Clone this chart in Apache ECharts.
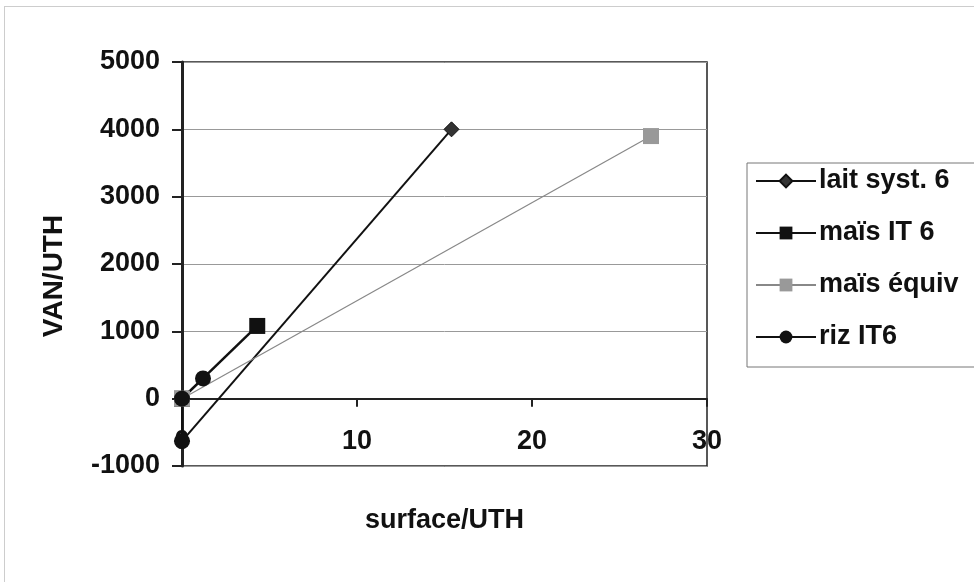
<!DOCTYPE html>
<html>
<head>
<meta charset="utf-8">
<script src="https://cdn.jsdelivr.net/npm/echarts@6/dist/echarts.min.js"></script>
<style>
  html, body { margin: 0; padding: 0; background: #fff; }
  #chart { width: 974px; height: 582px; }
</style>
</head>
<body>
<div id="chart"></div>
<script>
// Series names as shown in the legend
const seriesNames = ['lait syst. 6', 'maïs IT 6', 'maïs équiv', 'riz IT6'];

// surface/UTH (x) and VAN/UTH (y) for each series
const laitX = [0, 15.4];
const laitY = [-630, 4000];
const maisIT6X = [0, 4.3];
const maisIT6Y = [0, 1080];
const maisEquivX = [0, 26.8];
const maisEquivY = [0, 3900];
const rizX = [0, 0, 1.2];
const rizY = [-630, 0, 300];

// Axis ranges
const xTicks = [0, 10, 20, 30];
const yTicks = [-1000, 0, 1000, 2000, 3000, 4000, 5000];

function pairs(xs, ys) {
  return xs.map((x, i) => [x, ys[i]]);
}

const FONT = 'Liberation Sans';
const textStyle = { fontFamily: FONT, fontWeight: 'bold', fontSize: 27, color: '#111' };

const chart = echarts.init(document.getElementById('chart'), null, { renderer: 'canvas' });

chart.setOption({
  animation: false,
  backgroundColor: '#fff',
  graphic: [{
    type: 'rect',
    shape: { x: 4.5, y: 6.5, width: 1000, height: 600 },
    style: { fill: 'none', stroke: '#9a9a9a', lineWidth: 1, lineDash: [1, 1] },
    silent: true
  }],
  grid: {
    left: 182, top: 62, right: 267, bottom: 116,
    containLabel: false,
    outerBoundsMode: 'none',
    show: true, borderColor: '#222', borderWidth: 1.5, backgroundColor: 'transparent'
  },
  legend: {
    orient: 'vertical',
    left: 747, top: 163,
    padding: [2, 40, 14, 8],
    itemGap: 20,
    itemWidth: 60, itemHeight: 16,
    borderColor: '#777', borderWidth: 1,
    backgroundColor: '#fff',
    textStyle: Object.assign({}, textStyle, { fontSize: 27, lineHeight: 32, padding: [0, 0, 0, -2] }),
    data: seriesNames
  },
  xAxis: {
    type: 'value',
    min: xTicks[0], max: xTicks[xTicks.length - 1], interval: 10,
    name: 'surface/UTH',
    nameLocation: 'middle',
    nameGap: 41,
    nameTextStyle: textStyle,
    axisLine: { show: true, onZero: true, lineStyle: { color: '#222', width: 2 } },
    axisTick: { show: true, inside: false, length: 8, lineStyle: { color: '#222', width: 2 } },
    axisLabel: Object.assign({ margin: -38, formatter: v => String(v) }, textStyle),
    splitLine: { show: false }
  },
  yAxis: {
    type: 'value',
    min: yTicks[0], max: yTicks[yTicks.length - 1], interval: 1000,
    name: 'VAN/UTH',
    nameLocation: 'middle',
    nameGap: 114,
    nameRotate: 90,
    nameTextStyle: Object.assign({}, textStyle, { fontSize: 28, padding: [0, 24, 0, 0] }),
    axisLine: { show: true, onZero: false, lineStyle: { color: '#222', width: 3 } },
    axisTick: { show: true, inside: false, length: 10, lineStyle: { color: '#222', width: 2 } },
    axisLabel: Object.assign({ margin: 22, formatter: v => String(v) }, textStyle),
    splitLine: { show: true, lineStyle: { color: '#999', width: 1 } }
  },
  series: [
    {
      name: seriesNames[0], type: 'line', data: pairs(laitX, laitY),
      symbol: 'diamond', symbolSize: 15,
      lineStyle: { color: '#111', width: 2 },
      itemStyle: { color: '#333', borderColor: '#111', borderWidth: 1 }
    },
    {
      name: seriesNames[1], type: 'line', data: pairs(maisIT6X, maisIT6Y),
      symbol: 'rect', symbolSize: 16,
      lineStyle: { color: '#111', width: 2.5 },
      itemStyle: { color: '#111', borderColor: '#111', borderWidth: 0 }
    },
    {
      name: seriesNames[2], type: 'line', data: pairs(maisEquivX, maisEquivY),
      symbol: 'rect', symbolSize: 16,
      lineStyle: { color: '#888', width: 1.2 },
      itemStyle: { color: '#999', borderColor: '#999', borderWidth: 0 }
    },
    {
      name: seriesNames[3], type: 'line', data: pairs(rizX, rizY),
      symbol: 'circle', symbolSize: 16,
      lineStyle: { color: '#111', width: 2 },
      itemStyle: { color: '#111', borderColor: '#111', borderWidth: 0 }
    }
  ]
});
</script>
</body>
</html>
